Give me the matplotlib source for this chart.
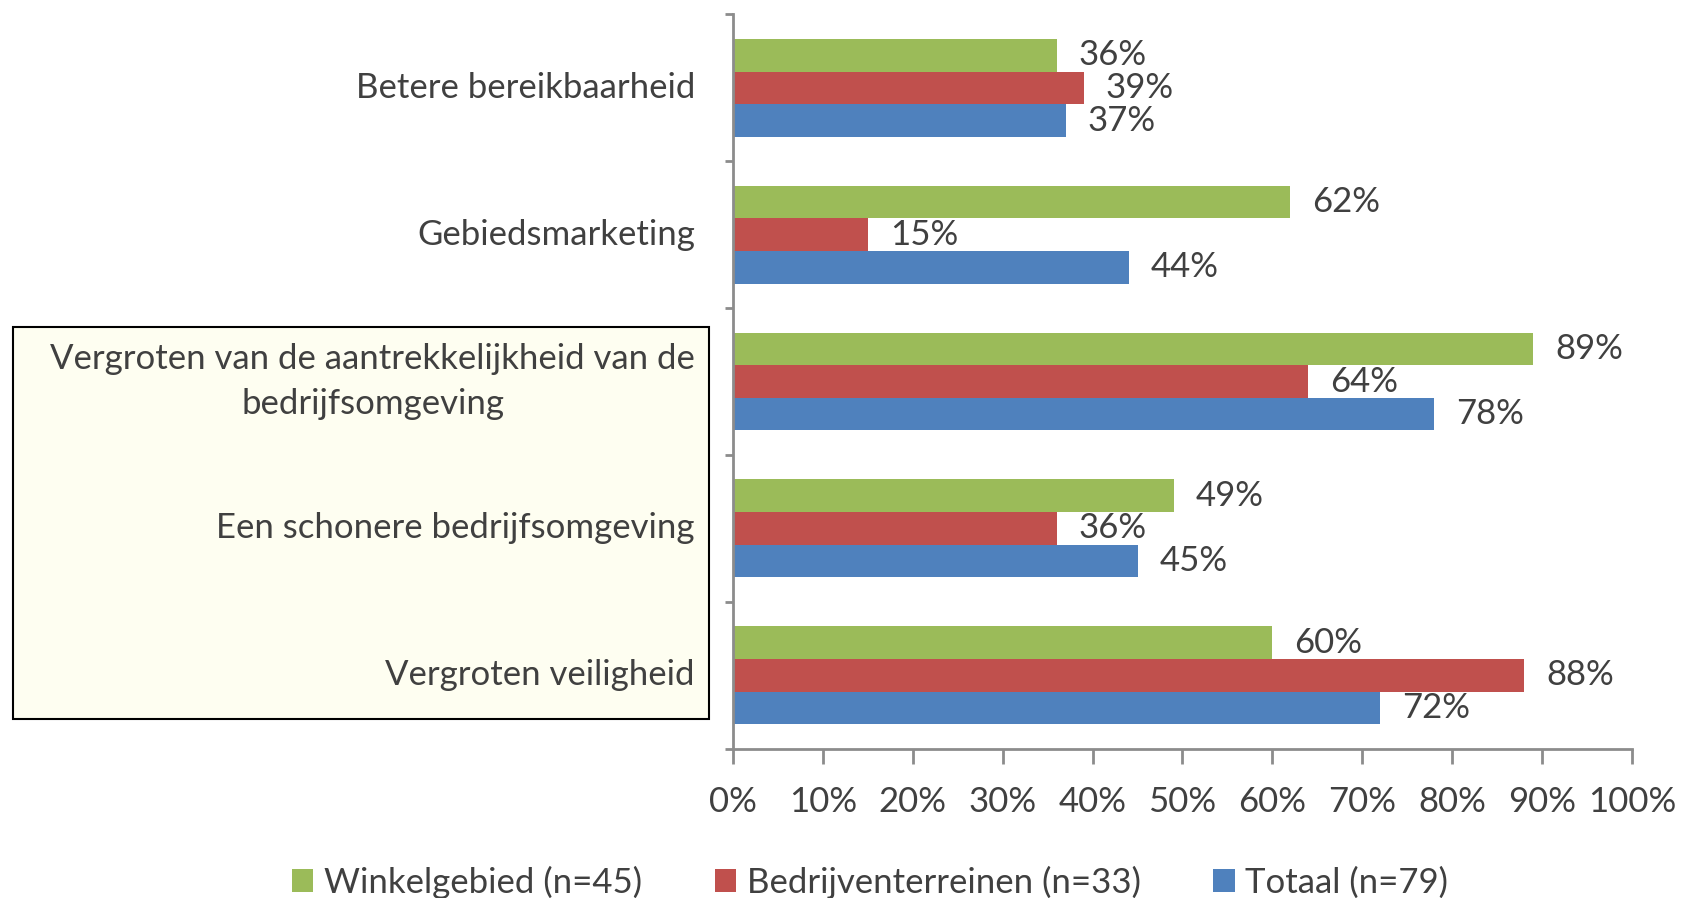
import matplotlib
matplotlib.use("Agg")
import matplotlib.pyplot as plt
from matplotlib.patches import Rectangle, Patch
import numpy as np

categories = [
    "Betere bereikbaarheid",
    "Gebiedsmarketing",
    "Vergroten van de aantrekkelijkheid van de\nbedrijfsomgeving",
    "Een schonere bedrijfsomgeving",
    "Vergroten veiligheid",
]
winkel = [36, 62, 89, 49, 60]
bedrijf = [39, 15, 64, 36, 88]
totaal = [37, 44, 78, 45, 72]
series_names = ["Winkelgebied (n=45)", "Bedrijventerreinen (n=33)", "Totaal (n=79)"]
colors = ["#9BBB59", "#C0504D", "#4F81BD"]
xticks = [0, 10, 20, 30, 40, 50, 60, 70, 80, 90, 100]
xticklabels = [f"{v}%" for v in xticks]

plt.rcParams['font.family'] = ['Lato', 'DejaVu Sans']
text_color = "#404040"
axis_color = "#8C8C8C"
fs = 25

fig = plt.figure(figsize=(16.83, 8.98), dpi=100)
ax = fig.add_axes([733/1683, 1-748.6/898, (1632-733)/1683, (748.6-14.5)/898])

n = len(categories)
bh = 1/4.5
ypos = np.arange(n)
all_series = [winkel, bedrijf, totaal]
for i, (vals, c, name) in enumerate(zip(all_series, colors, series_names)):
    y = ypos + (i - 1) * bh
    ax.barh(y, vals, height=bh, color=c, label=name, zorder=2)
    for yy, v in zip(y, vals):
        ax.annotate(f"{v}%", (v, yy), xytext=(16, 0), textcoords="offset points",
                    va="center", ha="left", fontsize=fs, color=text_color, zorder=3)

ax.set_ylim(n - 0.5, -0.5)
ax.set_xlim(0, 100)
ax.set_xticks(xticks)
ax.set_xticklabels(xticklabels, fontsize=fs, color=text_color)
ax.set_yticks(np.arange(n + 1) - 0.5)
ax.set_yticklabels([])
for y, lab in zip(ypos, categories):
    ax.text(-38/899*100, y, lab, ha="right", va="center", multialignment="center",
            fontsize=fs, color=text_color, linespacing=1.5, zorder=5,
            clip_on=False)

for s in ["top", "right"]:
    ax.spines[s].set_visible(False)
for s in ["left", "bottom"]:
    ax.spines[s].set_color(axis_color)
    ax.spines[s].set_linewidth(2)
ax.tick_params(axis="x", length=11, width=2, color=axis_color, pad=16, direction="out")
ax.tick_params(axis="y", length=6, width=2, color=axis_color, direction="out")

# highlighted box around labels
box = Rectangle((13/1683, 1-719/898), (709-13)/1683, (719-327)/898,
                transform=fig.transFigure, facecolor="#FEFEF1", edgecolor="black",
                linewidth=1.5, zorder=-1)
fig.patches.append(box)

handles = [Patch(facecolor=c, edgecolor="none") for c in colors]
leg = fig.legend(handles, series_names, loc="center", bbox_to_anchor=(870/1683, 1-882/898),
                 ncol=3, frameon=False, fontsize=fs, handlelength=0.62, handleheight=0.62,
                 handletextpad=0.3, columnspacing=2.1, borderpad=0)
for t in leg.get_texts():
    t.set_color(text_color)

fig.savefig("out.png", dpi=100)
